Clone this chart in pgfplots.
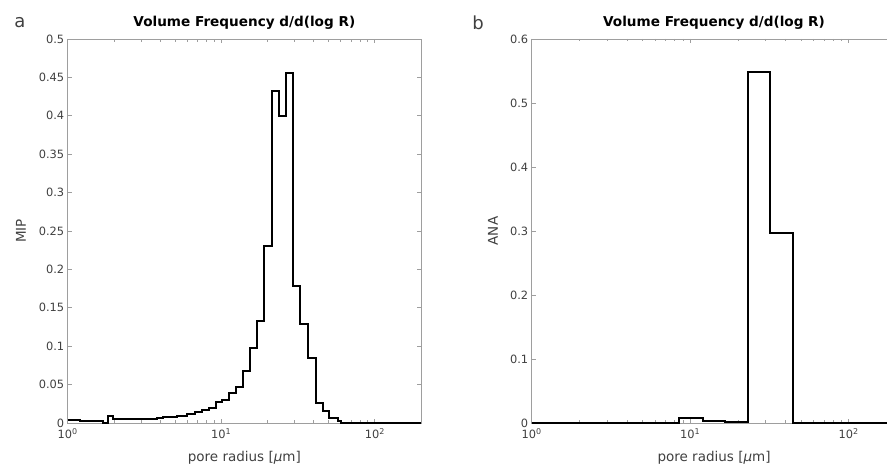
\documentclass[border=0pt]{standalone}
\usepackage{fontspec}
\setmainfont{DejaVu Sans}
\usepackage{pgfplots}
\pgfplotsset{compat=1.18}

\definecolor{spine}{rgb}{0.62,0.62,0.62}
\definecolor{labelgray}{rgb}{0.25,0.25,0.25}

\pgfplotsset{
  vfreq/.style={
    scale only axis,
    height=384pt,
    xmin=1, xmax=200,
    ymin=0,
    clip=false,
    axis line style={spine, line width=0.8pt},
    every tick/.style={spine, line width=0.8pt},
    major tick length=4pt, minor tick length=2.5pt,
    tick align=inside,
    xtick={1,10,100},
    xticklabels={10\textsuperscript{0},10\textsuperscript{1},10\textsuperscript{2}},
    ticklabel style={font=\fontsize{11.4}{13}\selectfont, text=labelgray},
    xticklabel style={yshift=-2pt},
    yticklabel style={/pgf/number format/fixed, /pgf/number format/precision=2,
      /pgf/number format/assume math mode=true},
    label style={font=\fontsize{13.5}{15}\selectfont, text=labelgray},
    title={Volume Frequency d/d(log R)},
    title style={font=\fontsize{13.6}{15}\selectfont\bfseries,
      at={(axis description cs:0.5,1)}, anchor=base, yshift=6.3pt},
    xlabel={pore radius [{\itshape μ}m]},
    xlabel style={at={(axis description cs:0.5,-0.0911)}, anchor=center},
  }
}

\begin{document}
\begin{tikzpicture}
\useasboundingbox (-67.7pt,-43pt) rectangle (819.3pt,423pt);
\clip (-67.7pt,-43pt) rectangle (819.3pt,423pt);

% panel a: MIP
\begin{semilogxaxis}[vfreq,
    at={(0pt,0pt)}, anchor=south west,
    width=353.3pt,
    ymax=0.5,
    ytick={0,0.05,0.1,0.15,0.2,0.25,0.3,0.35,0.4,0.45,0.5},
    ylabel={MIP},
    ylabel style={at={(axis description cs:-0.132,0.5)}, anchor=center},
]
\addplot[const plot mark left, black, line width=2pt] coordinates {
  (1,0.0035) (1.203,0.003) (1.693,0.0005) (1.843,0.009) (1.987,0.0056)
  (3.817,0.006) (4.197,0.0075) (4.663,0.008) (5.158,0.0095) (5.995,0.012)
  (6.792,0.014) (7.489,0.017) (8.327,0.020) (9.179,0.027) (10.15,0.030)
  (11.21,0.0395) (12.40,0.0473) (13.84,0.0673) (15.38,0.0977) (17.19,0.1332)
  (18.98,0.2309) (21.54,0.432) (23.80,0.400) (26.33,0.4557) (29.38,0.1788)
  (32.64,0.1285) (36.48,0.0842) (41.16,0.026) (45.73,0.016) (50.50,0.007)
  (57.30,0.0026) (60.22,0) (200,0)
};
\end{semilogxaxis}

% panel b: ANA
\begin{semilogxaxis}[vfreq,
    at={(464pt,0pt)}, anchor=south west,
    width=364.7pt,
    ymax=0.6,
    ytick={0,0.1,0.2,0.3,0.4,0.5,0.6},
    ylabel={ANA},
    ylabel style={at={(axis description cs:-0.106,0.5)}, anchor=center},
]
\addplot[const plot mark left, black, line width=2pt] coordinates {
  (1,0) (8.536,0.0073) (11.99,0.0036) (16.58,0.001) (22.99,0.548)
  (31.88,0.2964) (44.72,0) (200,0)
};
\end{semilogxaxis}

\node[font=\fontsize{18}{18}\selectfont, text=labelgray] at (-47.7pt,400pt) {a};
\node[font=\fontsize{18}{18}\selectfont, text=labelgray] at (410.3pt,400pt) {b};
\end{tikzpicture}
\end{document}
